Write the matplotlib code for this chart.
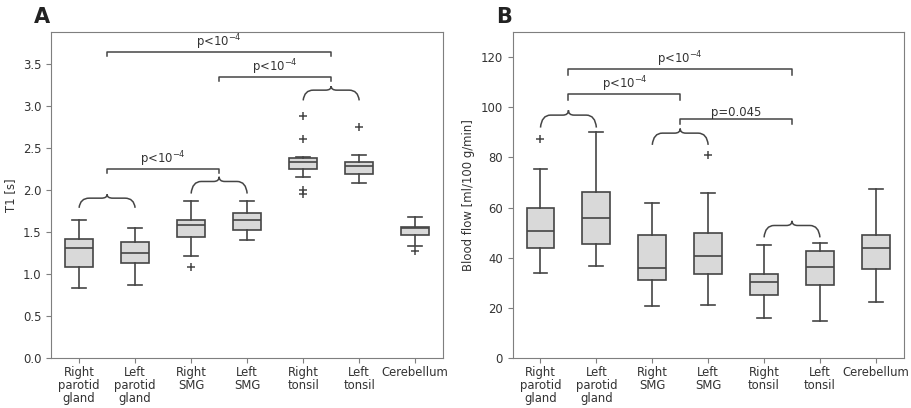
import matplotlib
matplotlib.use("Agg")
import matplotlib.pyplot as plt
from matplotlib.path import Path
from matplotlib.patches import PathPatch

categories = ["Right\nparotid\ngland", "Left\nparotid\ngland", "Right\nSMG", "Left\nSMG",
              "Right\ntonsil", "Left\ntonsil", "Cerebellum"]

# Panel A: T1 [s]
t1_whislo = [0.834, 0.874, 1.212, 1.406, 2.160, 2.089, 1.331]
t1_q1     = [1.088, 1.136, 1.446, 1.526, 2.255, 2.193, 1.466]
t1_med    = [1.307, 1.251, 1.581, 1.648, 2.340, 2.292, 1.546]
t1_q3     = [1.418, 1.386, 1.645, 1.728, 2.385, 2.332, 1.561]
t1_whishi = [1.648, 1.549, 1.868, 1.875, 2.400, 2.420, 1.677]
t1_fliers = [[], [], [1.081], [], [2.888, 2.606, 2.002, 1.955], [2.757], [1.279]]

# Panel B: Blood flow [ml/100 g/min]
bf_whislo = [34.0, 36.5, 20.8, 21.1, 15.9, 14.9, 22.3]
bf_q1     = [43.8, 45.4, 31.2, 33.6, 25.2, 29.2, 35.4]
bf_med    = [50.7, 56.0, 35.7, 40.6, 30.4, 36.2, 43.9]
bf_q3     = [60.0, 66.4, 49.1, 49.9, 33.6, 42.6, 49.1]
bf_whishi = [75.3, 90.1, 61.8, 66.0, 45.0, 45.9, 67.3]
bf_fliers = [[87.5], [], [], [80.8], [], [], []]

# Significance annotations: (x_start, x_end, y_line, y_tick_end, label)
t1_brackets = [(1.5, 5.5, 3.65, 3.60, "p<10$^{-4}$"),
               (3.5, 5.5, 3.35, 3.30, "p<10$^{-4}$"),
               (1.5, 3.5, 2.25, 2.20, "p<10$^{-4}$")]
# braces: (x_start, x_end, y_base, y_peak)
t1_braces = [(1.0, 2.0, 1.79, 1.95), (3.0, 4.0, 1.96, 2.16), (5.0, 6.0, 3.07, 3.24)]

bf_brackets = [(1.5, 5.5, 115.1, 113.0, "p<10$^{-4}$"),
               (1.5, 3.5, 105.1, 103.0, "p<10$^{-4}$"),
               (3.5, 5.5, 95.4, 93.5, "p=0.045")]
bf_braces = [(1.0, 2.0, 91.9, 98.8), (3.0, 4.0, 85.0, 91.5), (5.0, 6.0, 48.1, 54.7)]

EDGE = "#454545"
FILL = "#d9d9d9"
SPINE = "#7f7f7f"
TXT = "#333333"
FS = 8.4

plt.rcParams["font.family"] = ["DejaVu Sans"]

fig = plt.figure(figsize=(9.12, 4.08), dpi=100)
axA = fig.add_axes([0.056, 0.1225, 0.430, 0.799])
axB = fig.add_axes([0.562, 0.1225, 0.429, 0.799])


def make_stats(lo, q1, med, q3, hi, fl):
    return [dict(whislo=a, q1=b, med=c, q3=d, whishi=e, fliers=f)
            for a, b, c, d, e, f in zip(lo, q1, med, q3, hi, fl)]


def brace(ax, x0, x1, yb, yp):
    w = x1 - x0
    m = (x0 + x1) / 2
    ym = yb + 0.72 * (yp - yb)
    verts = [(x0, yb), (x0 + 0.02 * w, ym), (x0 + 0.18 * w, ym),
             (m - 0.1 * w, ym),
             (m, ym), (m, yp),
             (m, ym), (m + 0.1 * w, ym),
             (x1 - 0.18 * w, ym),
             (x1 - 0.02 * w, ym), (x1, yb)]
    codes = [Path.MOVETO, Path.CURVE3, Path.CURVE3,
             Path.LINETO,
             Path.CURVE3, Path.CURVE3,
             Path.CURVE3, Path.CURVE3,
             Path.LINETO,
             Path.CURVE3, Path.CURVE3]
    ax.add_patch(PathPatch(Path(verts, codes), fill=False, edgecolor=EDGE, lw=1.1))


def bracket(ax, x0, x1, y, ytick, label):
    ax.plot([x0, x0, x1, x1], [ytick, y, y, ytick], color=EDGE, lw=1.1)
    ax.text((x0 + x1) / 2, y, label, ha="center", va="bottom", fontsize=FS, color=TXT)


def panel(ax, stats, ylim, yticks, ylabel, brackets, braces, letter):
    ax.bxp(stats, positions=range(1, 8), widths=0.5, patch_artist=True,
           boxprops=dict(facecolor=FILL, edgecolor=EDGE, lw=1.2),
           medianprops=dict(color=EDGE, lw=1.2),
           whiskerprops=dict(color=EDGE, lw=1.2),
           capprops=dict(color=EDGE, lw=1.2),
           flierprops=dict(marker="+", markeredgecolor=EDGE, markersize=6, markeredgewidth=1.1))
    ax.set_xlim(0.5, 7.5)
    ax.set_ylim(*ylim)
    ax.set_yticks(yticks)
    ax.set_xticks(range(1, 8))
    ax.set_xticklabels(categories, fontsize=FS, color=TXT, linespacing=1.02)
    ax.tick_params(axis="y", labelsize=FS, labelcolor=TXT, color=SPINE)
    ax.tick_params(axis="x", color=SPINE, pad=2)
    ax.set_ylabel(ylabel, fontsize=FS, color=TXT)
    for s in ax.spines.values():
        s.set_color(SPINE)
    for b in brackets:
        bracket(ax, *b)
    for b in braces:
        brace(ax, *b)
    ax.text(-0.002, 1.015, letter, transform=ax.transAxes, fontsize=15, fontweight="heavy",
            color="#222222", ha="right", va="bottom")


panel(axA, make_stats(t1_whislo, t1_q1, t1_med, t1_q3, t1_whishi, t1_fliers),
      (0, 3.885), [0.0, 0.5, 1.0, 1.5, 2.0, 2.5, 3.0, 3.5], "T1 [s]",
      t1_brackets, t1_braces, "A")
axA.set_yticklabels(["0.0", "0.5", "1.0", "1.5", "2.0", "2.5", "3.0", "3.5"])
panel(axB, make_stats(bf_whislo, bf_q1, bf_med, bf_q3, bf_whishi, bf_fliers),
      (0, 130), [0, 20, 40, 60, 80, 100, 120], "Blood flow [ml/100 g/min]",
      bf_brackets, bf_braces, "B")

fig.savefig("out.png", dpi=100)
